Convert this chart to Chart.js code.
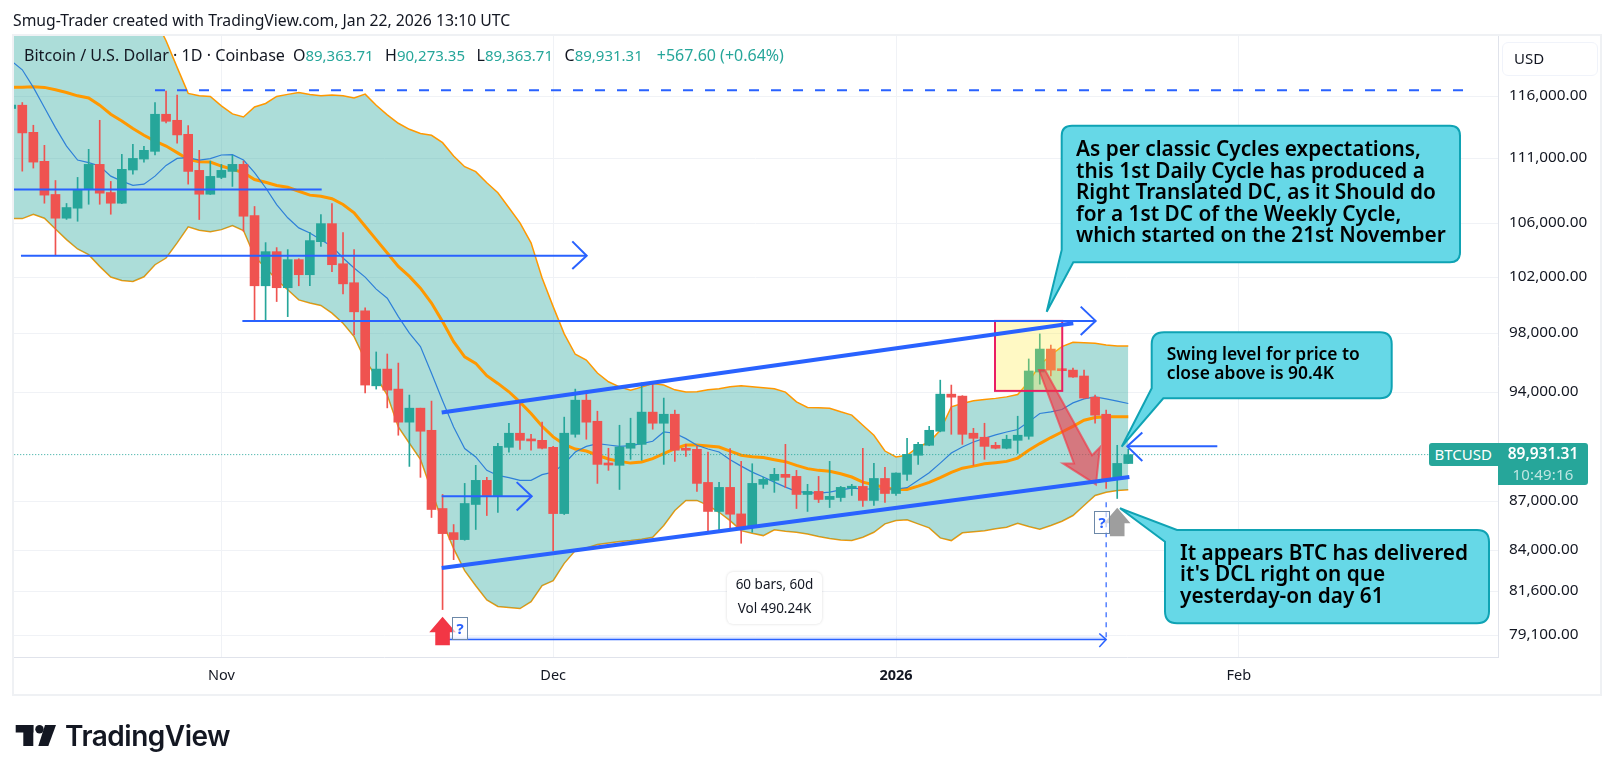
<!DOCTYPE html>
<html><head><meta charset="utf-8">
<script src="https://cdn.jsdelivr.net/npm/chart.js@4"></script>
<style>
html,body{margin:0;padding:0;background:#fff;overflow:hidden}
body{width:1615px;height:776px;position:relative;font-family:"Noto Sans",sans-serif;color:#131722}
#c{position:absolute;left:0;top:0}
.t{position:absolute;white-space:nowrap}
svg{position:absolute;left:0;top:0;pointer-events:none}
.call{position:absolute;white-space:pre;color:#000;font-weight:600}
.q{position:absolute;width:14px;height:21px;border:1px solid #6C88A8;color:#2962FF;background:rgba(255,255,255,.6);font-weight:700;font-size:15px;line-height:21px;text-align:center}
.k{font-size:16px;margin-left:11.5px}
.v{color:#26A69A}
</style></head><body>
<canvas id="c" width="1615" height="776" style="width:1615px;height:776px"></canvas>
<svg width="1615" height="776">
<rect x="13" y="35" width="1588" height="660" fill="none" stroke="#EFF1F4" stroke-width="2"/>
<path d="M1072,125.7H1450Q1460,125.7 1460,135.7V252.3Q1460,262.3 1450,262.3H1073.3L1046.7,311.7L1061.7,250V135.7Q1061.7,125.7 1072,125.7Z" fill="#66D8E7" stroke="#0FA3B4" stroke-width="2"/>
<path d="M1164,332.3H1380Q1391.7,332.3 1391.7,344V386.6Q1391.7,398.3 1380,398.3H1163.3L1121.7,446.7L1151.7,388.3V344Q1151.7,332.3 1164,332.3Z" fill="#66D8E7" stroke="#0FA3B4" stroke-width="2"/>
<path d="M1177,530H1477Q1489,530 1489,542V611.3Q1489,623.3 1477,623.3H1177Q1165,623.3 1165,611.3V541.7L1120,508.3Z" fill="#66D8E7" stroke="#0FA3B4" stroke-width="2"/>
<g fill="#131722">
<rect x="15.7" y="725" width="17.7" height="7.5"/><rect x="23.3" y="725" width="10" height="21"/>
<circle cx="39.5" cy="729.3" r="4.2"/><path d="M45,725H56L48.3,746H38.3Z"/>
</g>
</svg>
<div class="t" style="left:13px;top:10px;font-size:15.75px;line-height:21px;color:#131722">Smug-Trader created with TradingView.com, Jan 22, 2026 13:10 UTC</div>
<div class="t" style="left:24px;top:45px;font-size:15px;line-height:21px"><span style="font-size:16.1px">Bitcoin / U.S. Dollar · 1D · Coinbase</span><span class="k" style="margin-left:8px">O</span><span class="v">89,363.71</span><span class="k">H</span><span class="v">90,273.35</span><span class="k">L</span><span class="v">89,363.71</span><span class="k">C</span><span class="v">89,931.31</span><span class="v" style="margin-left:14px;font-size:16px">+567.60 (+0.64%)</span></div>
<div class="t" style="left:1502px;top:41.5px;width:96px;height:34px;border:1px solid #F0F3FA;border-radius:6px;box-sizing:border-box;background:#fff"></div>
<div class="t" style="left:1514px;top:48px;font-size:15px;line-height:21px">USD</div>
<div class="t" style="left:1429px;top:443px;width:68.5px;height:23px;background:#26A69A;border-radius:3px 0 0 3px;color:#fff;font-size:15px;line-height:23px;text-align:center">BTCUSD</div>
<div class="t" style="left:1498px;top:443px;width:90px;height:42px;background:#26A69A;border-radius:0 3px 3px 0;color:#fff;text-align:center;font-size:15.5px;font-weight:600;line-height:21px">89,931.31<br><span style="font-weight:400;font-size:15px;color:#BFE6E2;letter-spacing:.2px">10:49:16</span></div>
<div class="t" style="left:727px;top:572px;width:95px;height:52px;background:#fff;border-radius:6px;box-shadow:0 0 3px rgba(0,0,0,.15);text-align:center;font-size:13.5px;line-height:24px;color:#131722">60 bars, 60d<br>Vol 490.24K</div>
<div class="call" style="left:1076px;top:138px;font-size:20.8px;line-height:21.6px">As per classic Cycles expectations,
this 1st Daily Cycle has produced a
Right Translated DC, as it Should do
for a 1st DC of the Weekly Cycle,
which started on the 21st November</div>
<div class="call" style="left:1166.7px;top:344px;font-size:17.4px;line-height:19px">Swing level for price to
close above is 90.4K</div>
<div class="call" style="left:1180px;top:541.5px;font-size:20.8px;line-height:21.7px">It appears BTC has delivered
it's DCL right on que
yesterday-on day 61</div>
<div class="q" style="left:452px;top:617px">?</div>
<div class="q" style="left:1094px;top:511px">?</div>
<div class="t" style="left:65px;top:716px;font-family:Inter,Roboto,sans-serif;font-weight:600;font-size:28px;line-height:40px;color:#131722;letter-spacing:-.5px">TradingView</div>
<script>
// Candles, Oct 13 2025 ... Jan 22 2026 (one per day)
const opens=[115020,115290,113090,110780,108200,106390,107150,108590,110540,108350,107530,110100,110960,111570,114550,114060,112930,110070,108220,109520,109990,110540,106590,101400,103890,101260,103300,102200,104630,105980,103000,101620,99610,94440,95570,94220,92030,92950,91500,86550,85080,84660,86800,88300,87340,90400,91310,90900,90850,90400,86240,91240,93480,92090,89370,89250,90340,90590,92690,91960,92550,90290,90270,88170,86370,87860,86220,85410,88050,88300,88680,88550,87420,87610,87110,87230,87810,87920,87050,88420,87480,88680,89890,90530,91440,93880,93750,91310,91050,90530,90340,90850,91110,95370,96940,95570,95500,95100,93680,92550,88360,89363.71];
const highs=[115500,115510,113660,112050,109280,107510,109520,111730,114060,109210,111330,112130,111970,115510,116450,116120,113630,111650,110800,110540,111250,110800,107280,104560,104190,104040,103370,105330,106670,107510,105310,104040,99820,96740,96600,95980,93820,92950,93420,87420,85570,88110,89250,88490,90660,91960,93220,91240,92030,90460,92360,94220,93930,92750,90340,91830,92290,94640,94600,93620,92820,90590,90460,90090,88170,90320,89500,89350,88500,89060,90590,88930,88050,88550,89500,87920,88050,90340,89370,89120,88780,90980,90720,91760,94820,94490,93780,91630,91960,90720,91180,92420,96260,97990,97220,95620,95640,95500,93820,92820,90530,90273.35];
const lows=[114800,110010,110250,107530,103590,106300,106160,107450,107450,106690,107500,109780,110720,111280,113850,112210,109000,106290,108200,109420,108820,105400,98970,98970,100270,99200,101400,101400,104280,102420,100820,97920,93970,94220,92970,91180,89180,88490,86000,80550,83460,84620,85270,86120,86310,90080,90270,90210,90300,84000,86180,91050,90920,88110,88930,87730,89630,89570,91570,89310,89500,89820,87610,85200,85200,85200,84440,85100,87800,87550,87840,86550,86370,86920,86610,86990,87360,86680,86740,86920,87360,88300,89310,90500,91400,91240,90590,89250,89630,90300,90300,90010,90920,94550,95100,95430,95000,93600,91960,87800,87170,89363.71];
const closes=[115300,113040,110720,108150,106390,107200,108590,110540,108300,107530,110150,111010,111650,114550,113980,112880,109990,108220,109600,110070,110540,106540,101400,103890,101260,103300,102200,104710,105980,102930,101540,99540,94490,95570,94150,92030,92950,91440,86490,85020,84660,86860,88300,87340,90460,91310,90850,90810,90340,86240,91310,93480,92030,89310,89270,90420,90660,92690,91960,92550,90210,90210,88110,86370,87860,86200,85410,88110,88360,88680,88490,87420,87610,87110,87300,87860,87920,87050,88420,87480,88760,89950,90590,91500,93880,93680,91240,90980,90460,90340,90920,91180,95440,96940,95500,95460,95030,93620,92490,88360,89370,89931.31];
// Bollinger bands and moving average
const bandUpper=[127500,127400,127200,127300,126900,126600,126300,126000,125600,125100,124700,124200,123700,122600,120700,118430,116260,116060,116010,115230,114580,114330,115150,115430,116010,116180,116340,116180,116060,116120,116060,115890,116200,115290,114500,113820,113330,112990,112850,112260,111200,110360,109970,109100,108330,107180,106040,104540,101960,99910,97990,96580,96190,95300,94710,94370,94150,94350,94600,94490,94170,94020,94040,94180,94240,94370,94440,94370,94310,94240,94020,93370,93000,92970,92950,92710,92490,91830,91180,90160,89780,89890,90420,90740,91500,93040,93260,93440,93530,93600,93700,93860,94710,95850,96530,97110,97410,97380,97340,97220,97150,97150];
const bandMiddle=[116760,116780,116810,116760,116560,116340,116060,115890,115290,114550,114010,113390,112850,112390,111990,111470,110940,110750,110720,110410,110150,109890,109360,109150,108900,108760,108450,108150,108070,107870,107430,106800,105780,104780,103790,102810,102080,101230,100160,98850,97450,96410,95960,95120,94600,94040,93350,92600,91760,91070,90590,90290,90160,89890,89650,89500,89390,89460,89670,89990,90320,90550,90550,90480,90420,90160,89890,89800,89740,89610,89480,89250,89040,88930,88870,88720,88510,88190,88030,87840,87730,87730,87940,88170,88470,88800,89070,89200,89350,89420,89500,89710,90210,90640,91030,91390,91760,92160,92340,92380,92380,92380];
const bandLower=[106360,106360,106690,106390,105580,104780,104090,103670,102810,102030,101780,101710,102050,102930,103420,104540,105740,105480,105380,105530,105830,105460,103540,102690,101830,101110,100390,100160,99990,99450,98740,97800,96190,95050,93820,91720,90660,89630,87670,85710,84120,82810,81930,81100,80730,80670,80610,81000,81930,82220,83240,84000,84160,84360,84460,84540,84600,84680,84800,85510,86430,87050,87050,86740,86320,85810,85200,85040,84900,85250,85160,85100,85000,84840,84720,84640,84600,84800,85100,85610,85810,85860,85610,85370,84760,84600,85070,85140,85200,85310,85410,85650,85450,85280,85510,85770,86120,86740,87360,87560,87670,87710];
const maFast=[118990,118230,116760,115100,113470,111990,110880,110680,110410,109620,109230,108900,109000,109620,110460,111010,111070,110880,110990,111280,111310,110880,109890,108720,107430,106420,105660,105280,104780,104280,103420,102690,102030,101160,100510,99200,98040,97110,95280,93440,91720,90320,89780,88930,88610,88470,88300,88300,88660,88820,89350,90100,90460,90640,90550,90460,90510,90640,90790,91390,91310,90960,90530,90290,90100,89610,89200,88820,88510,88190,87880,87610,87530,87500,87560,87710,87810,87760,87760,87760,87760,87840,88300,88780,89390,90030,90420,90740,90980,91200,91390,91550,92050,92600,92710,92860,93300,93570,93700,93570,93420,93260];
// Axis ticks
const priceTicks=[116000,111000,106000,102000,98000,94000,87000,84000,81600,79100];
const dateTickDays=[19,49,80,111];
const dateTickLabels=["Nov","Dec","2026","Feb"];
const lastPrice=[89931.31,89931.31];
const lastPriceDays=[0,128.2];
// Drawings, as day index / price pairs
const topDashDays=[13,131.3],topDashPrices=[116530,116530];
const level1Days=[0,28.07],level1Prices=[108585,108585];
const level2Days=[0.88,52.03],level2Prices=[103590,103590];
const level2HeadDays=[50.73,52.03,50.73],level2HeadPrices=[104650,103590,102610];
const level3Days=[20.9,98.05],level3Prices=[98900,98900];
const level3HeadDays=[96.7,98.05,96.7],level3HeadPrices=[99910,98900,97920];
const level4Days=[38.92,47.06],level4Prices=[87310,87310];
const level4HeadDays=[45.7,47.06,45.7],level4HeadPrices=[88190,87310,86430];
const level5Days=[109.05,100.91],level5Prices=[90460,90460];
const level5HeadDays=[102.27,100.91,102.27],level5HeadPrices=[91350,90460,89520];
const channelTopDays=[38.92,96.03],channelTopPrices=[92665,98738];
const channelLowDays=[38.92,101.1],channelLowPrices=[82968,88505];
const rangeDays=[39,99],rangePrices=[78850,78850];
const rangeHeadDays=[98.38,99,98.38],rangeHeadPrices=[79190,78850,78440];
const rangeEndDays=[99,99],rangeEndPrices=[86940,78850];
const boxDays=[88.95,95.03],boxPrices=[98900,94100];
const bigArrowDays=[92.93,93.47,97.72,98.44,98.08,95.1,96.09];
const bigArrowPrices=[95503,95503,89885,90400,88046,89373,89373];
const upMarkDays=[39,100],upMarkPrices=[80140,86595];

const up='#26A69A',down='#EF5350',blue='#2962FF',orange='#FF9800';
const barColor=opens.map((o,i)=>closes[i]>=o?up:down);
const pts=a=>a.map((y,i)=>({x:i,y}));
const xy=(xs,ys)=>xs.map((x,i)=>({x,y:ys[i]}));
const line=(data,color,width,order,extra)=>Object.assign({type:'line',data,borderColor:color,borderWidth:width,pointRadius:0,tension:0,order,clip:0,fill:false},extra||{});
const draw=(xs,ys,w,extra)=>line(xy(xs,ys),blue,w,1,extra);
const datasets=[
 line(pts(bandUpper),orange,1.5,12,{fill:{target:1,above:'rgba(38,166,154,.38)',below:'rgba(38,166,154,.38)'}}),
 line(pts(bandLower),orange,1.5,12),
 line(pts(bandMiddle),orange,3,11),
 line(pts(maFast),'#2F80D8',1.2,10),
 line(xy(lastPriceDays,lastPrice),up,1,9,{borderDash:[1,2]}),
 {type:'bar',data:lows.map((l,i)=>({x:i,y:[l,highs[i]]})),backgroundColor:barColor,barThickness:1,grouped:false,order:6,borderWidth:0,minBarLength:1},
 {type:'bar',data:opens.map((o,i)=>({x:i,y:[o,closes[i]]})),backgroundColor:barColor,barThickness:9,grouped:false,order:5,borderWidth:0,minBarLength:2},
 draw(topDashDays,topDashPrices,2,{borderDash:[10,12]}),
 draw(level1Days,level1Prices,2),
 draw(level2Days,level2Prices,2),draw(level2HeadDays,level2HeadPrices,2),
 draw(level3Days,level3Prices,2),draw(level3HeadDays,level3HeadPrices,2),
 draw(level4Days,level4Prices,2),draw(level4HeadDays,level4HeadPrices,2),
 draw(level5Days,level5Prices,2),draw(level5HeadDays,level5HeadPrices,2),
 draw(channelTopDays,channelTopPrices,4),
 draw(channelLowDays,channelLowPrices,4),
 draw(rangeDays,rangePrices,1.5),draw(rangeHeadDays,rangeHeadPrices,1.5),
 draw(rangeEndDays,rangeEndPrices,1.2,{borderDash:[5,5]})
];
const bodyIndex=6;
const overlays={id:'overlays',
 afterDatasetDraw(chart,args){
  if(args.index!==bodyIndex)return;
  const {ctx,scales:{x,y}}=chart;
  ctx.save();
  const bx=x.getPixelForValue(boxDays[0]),bx2=x.getPixelForValue(boxDays[1]);
  const by=y.getPixelForValue(boxPrices[0]),by2=y.getPixelForValue(boxPrices[1]);
  ctx.fillStyle='rgba(255,235,59,.3)';ctx.fillRect(bx,by,bx2-bx,by2-by);
  ctx.strokeStyle='#E91E63';ctx.lineWidth=2;ctx.strokeRect(bx,by,bx2-bx,by2-by);
  ctx.beginPath();
  bigArrowDays.forEach((d,i)=>{const px=x.getPixelForValue(d),py=y.getPixelForValue(bigArrowPrices[i]);i?ctx.lineTo(px,py):ctx.moveTo(px,py);});
  ctx.closePath();
  ctx.fillStyle='rgba(242,54,69,.6)';ctx.fill();
  ctx.strokeStyle='rgba(242,54,69,.65)';ctx.lineWidth=2;ctx.stroke();
  ctx.restore();
 },
 afterDatasetsDraw(chart){
  const {ctx,chartArea:a,scales:{x,y}}=chart;
  ctx.save();
  ctx.beginPath();ctx.rect(a.left,a.top,a.right-a.left,a.bottom-a.top);ctx.clip();
  ctx.fillStyle='rgba(41,98,255,.15)';
  const r1=x.getPixelForValue(rangeDays[0]),r2=x.getPixelForValue(rangeDays[1]),ry=y.getPixelForValue(rangePrices[0]);
  ctx.fillRect(r1,ry-3,r2-r1,3);
  upMarkDays.forEach((d,i)=>{
   const px=x.getPixelForValue(d),py=y.getPixelForValue(upMarkPrices[i]);
   const h=28.4;
   ctx.fillStyle=i?'#9E9E9E':'#F23645';
   ctx.beginPath();ctx.moveTo(px,py);ctx.lineTo(px+13.3,py+15.5);ctx.lineTo(px+7.3,py+15.5);ctx.lineTo(px+7.3,py+h);ctx.lineTo(px-7.3,py+h);ctx.lineTo(px-7.3,py+15.5);ctx.lineTo(px-13.3,py+15.5);ctx.closePath();ctx.fill();
  });
  ctx.restore();
 }};
new Chart(document.getElementById('c'),{
 type:'bar',
 data:{datasets},
 plugins:[overlays],
 options:{
  responsive:false,animation:false,events:[],
  devicePixelRatio:1,
  layout:{padding:{left:13,top:35,right:13,bottom:81}},
  plugins:{legend:{display:false},tooltip:{enabled:false},title:{display:false}},
  scales:{
   x:{type:'linear',min:0.16,max:134.43,offset:false,
    grid:{color:'#F0F2F6',lineWidth:1,offset:false,drawTicks:false},
    border:{color:'#E0E3EB',width:1},
    afterFit:s=>{s.height=38},
    afterBuildTicks:s=>{s.ticks=dateTickDays.map(v=>({value:v}))},
    ticks:{autoSkip:false,maxRotation:0,padding:10,color:'#131722',
     font:c=>({family:'"Noto Sans"',size:14.5,weight:c.index===2?'700':'400'}),
     callback:(v,i)=>dateTickLabels[i]}},
   y:{type:'logarithmic',position:'right',min:77880,max:121190,
    grid:{color:'#F0F2F6',lineWidth:1,drawTicks:false},
    border:{color:'#E0E3EB',width:1},
    afterFit:s=>{s.width=104},
    afterBuildTicks:s=>{s.ticks=priceTicks.map(v=>({value:v}))},
    ticks:{autoSkip:false,padding:11,labelOffset:-1,color:'#131722',
     font:{family:'"Noto Sans"',size:15.3},
     callback:v=>Number(v).toLocaleString('en-US',{minimumFractionDigits:2,maximumFractionDigits:2})}}
  }
 }
});
</script>
</body></html>
